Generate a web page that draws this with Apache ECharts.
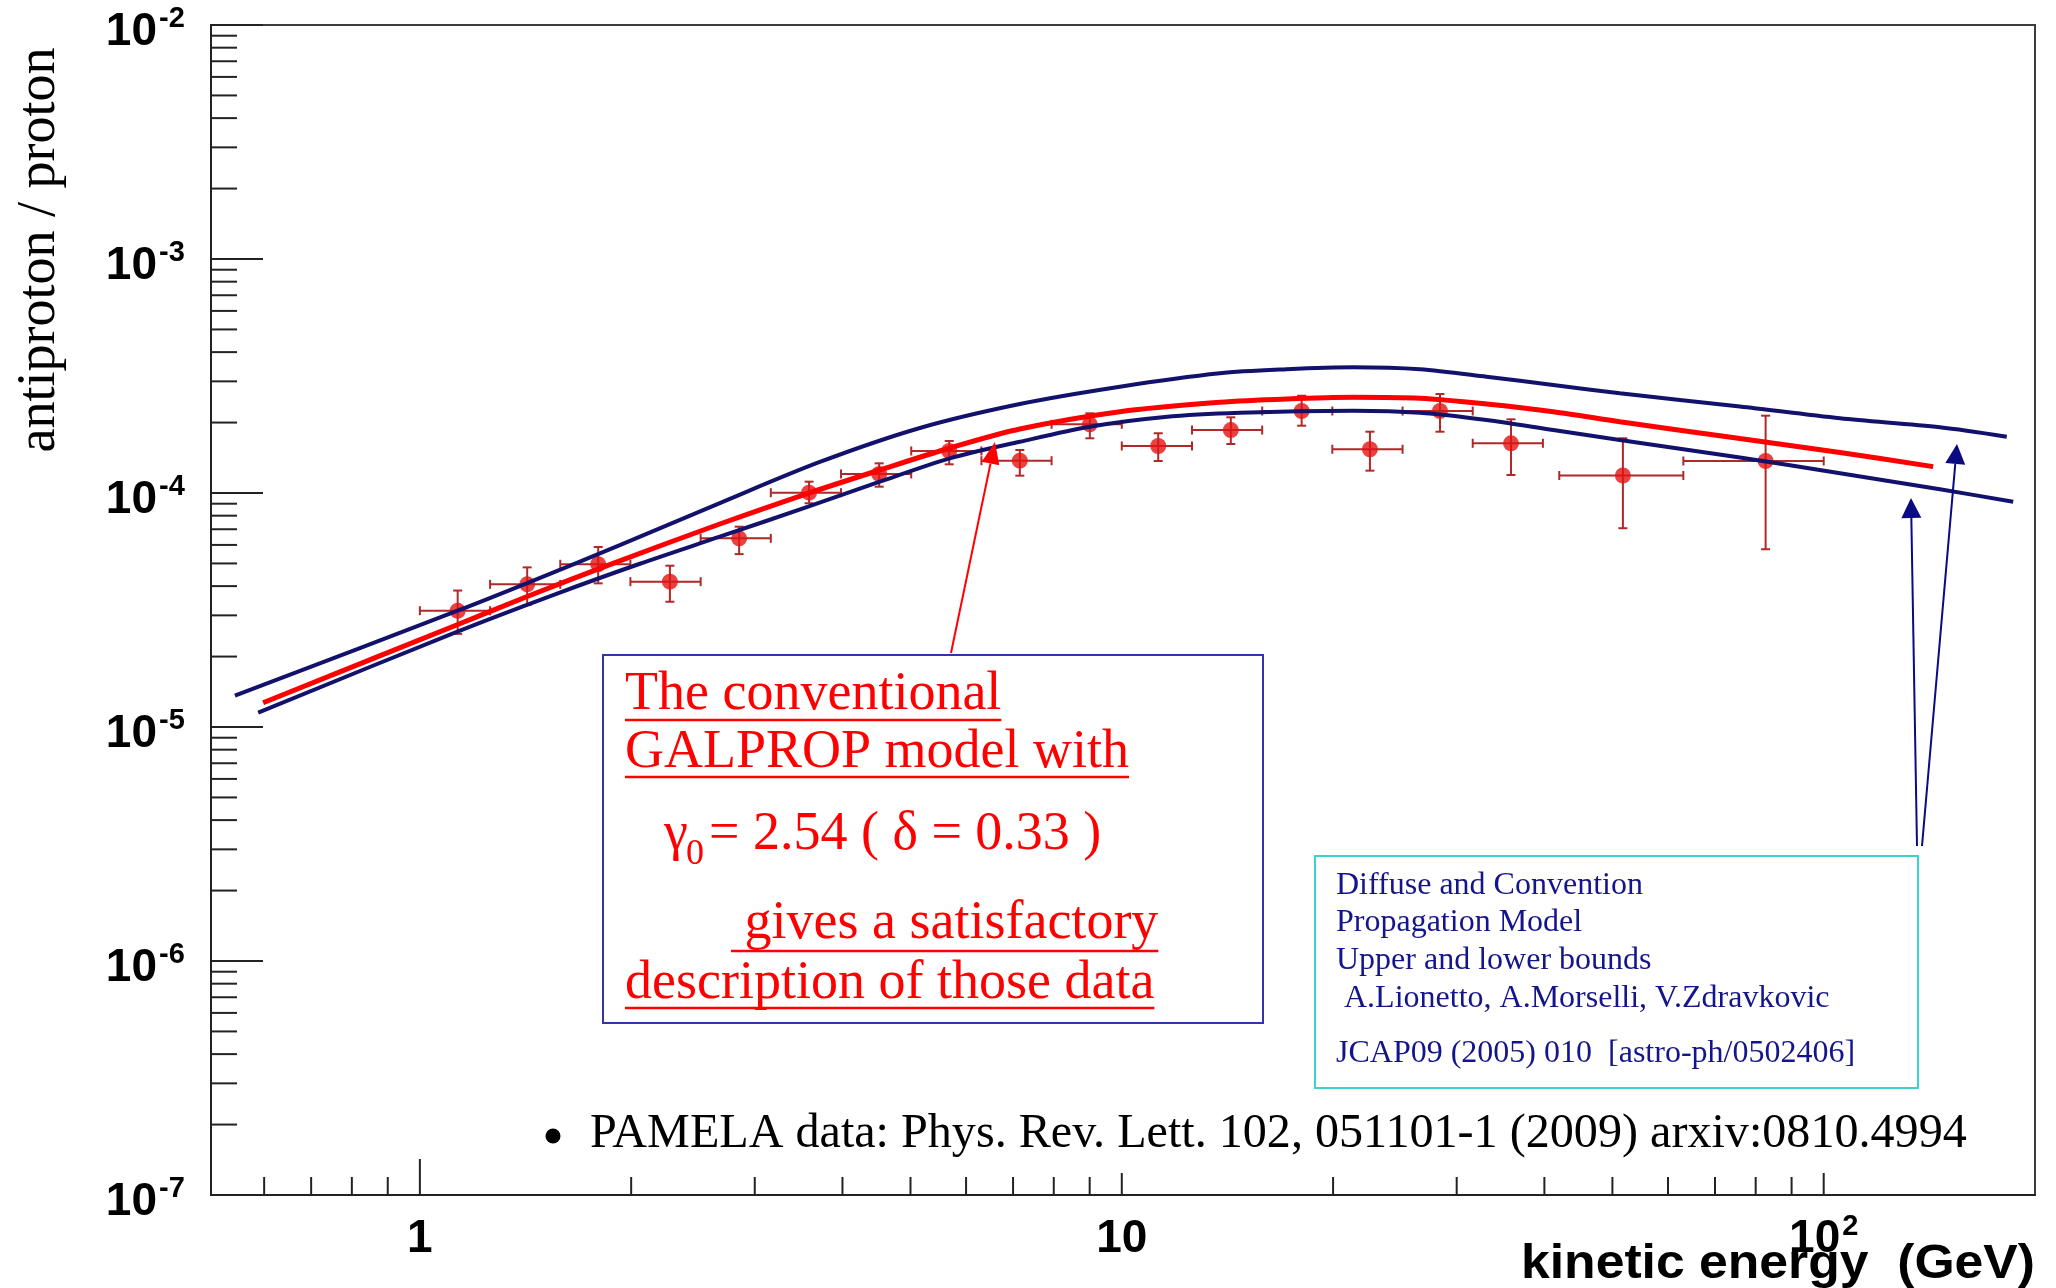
<!DOCTYPE html>
<html lang="en">
<head>
<meta charset="utf-8">
<title>antiproton / proton ratio</title>
<script src="https://cdn.jsdelivr.net/npm/echarts@6.0.0/dist/echarts.min.js"></script>
<style>
  html, body { margin: 0; padding: 0; background: #ffffff; }
  #chart { width: 2056px; height: 1288px; }
</style>
</head>
<body>
<div id="chart"></div>
<script>
// ---- PAMELA antiproton/proton measurements (kinetic energy in GeV) ----
const energy = [1.132, 1.422, 1.795, 2.271, 2.850, 3.585, 4.512, 5.677, 7.157, 9.005,
                11.27, 14.30, 18.04, 22.57, 28.40, 35.85, 51.75, 82.65];
const ratio = [3.14e-5, 4.07e-5, 4.96e-5, 4.18e-5, 6.40e-5, 1.003e-4, 1.206e-4, 1.512e-4, 1.374e-4, 1.966e-4,
               1.588e-4, 1.858e-4, 2.241e-4, 1.538e-4, 2.241e-4, 1.631e-4, 1.188e-4, 1.370e-4];
const energyLow = [1.0, 1.259, 1.585, 1.995, 2.512, 3.162, 3.981, 5.012, 6.310, 7.943,
                   10.0, 12.59, 15.85, 19.95, 25.12, 31.62, 42.0, 63.10];
const energyHigh = [1.259, 1.585, 1.995, 2.512, 3.162, 3.981, 5.012, 6.310, 7.943, 10.0,
                    12.59, 15.85, 19.95, 25.12, 31.62, 39.81, 63.10, 100.0];
const ratioLow = [2.50e-5, 3.32e-5, 4.11e-5, 3.43e-5, 5.48e-5, 9.04e-5, 1.064e-4, 1.326e-4, 1.186e-4, 1.713e-4,
                  1.370e-4, 1.62e-4, 1.939e-4, 1.246e-4, 1.828e-4, 1.194e-4, 7.07e-5, 5.75e-5];
const ratioHigh = [3.83e-5, 4.81e-5, 5.88e-5, 4.89e-5, 7.18e-5, 1.118e-4, 1.339e-4, 1.668e-4, 1.527e-4, 2.19e-4,
                   1.80e-4, 2.106e-4, 2.604e-4, 1.828e-4, 2.648e-4, 2.065e-4, 1.713e-4, 2.14e-4];

// ---- diffusion + convection model, upper bound ----
const upperEnergy = [0.5451, 1.132, 1.419, 1.927, 2.675, 3.714, 5.157, 7.157, 9.938, 13.79,
                     17.17, 21.36, 26.59, 33.09, 41.18, 51.23, 75.97, 105.5, 146.4, 182.3];
const upperRatio = [1.361e-5, 3.14e-5, 4.11e-5, 5.99e-5, 9.06e-5, 1.357e-4, 1.896e-4, 2.400e-4, 2.846e-4, 3.247e-4,
                    3.378e-4, 3.445e-4, 3.378e-4, 3.14e-4, 2.894e-4, 2.668e-4, 2.343e-4, 2.085e-4, 1.909e-4, 1.740e-4];

// ---- conventional GALPROP model ----
const galpropEnergy = [0.5980, 1.128, 1.419, 1.885, 2.675, 3.574, 4.522, 5.690, 7.157, 9.938,
                       13.79, 17.17, 21.36, 26.59, 33.09, 41.18, 51.23, 75.97, 105.5, 143.2];
const galpropRatio = [1.270e-5, 2.729e-5, 3.602e-5, 5.005e-5, 7.37e-5, 9.97e-5, 1.254e-4, 1.557e-4, 1.877e-4, 2.225e-4,
                      2.441e-4, 2.522e-4, 2.564e-4, 2.539e-4, 2.400e-4, 2.225e-4, 2.017e-4, 1.709e-4, 1.490e-4, 1.296e-4];

// ---- diffusion + convection model, lower bound ----
const lowerEnergy = [0.5884, 1.115, 1.548, 2.058, 2.675, 3.574, 4.522, 5.690, 7.157, 9.006,
                     11.52, 14.73, 21.36, 26.59, 33.09, 41.18, 51.23, 75.97, 105.5, 146.4, 186.2];
const lowerRatio = [1.151e-5, 2.514e-5, 3.664e-5, 4.985e-5, 6.505e-5, 8.74e-5, 1.118e-4, 1.407e-4, 1.656e-4, 1.920e-4,
                    2.113e-4, 2.203e-4, 2.247e-4, 2.203e-4, 2.051e-4, 1.858e-4, 1.684e-4, 1.418e-4, 1.214e-4, 1.037e-4, 9.18e-5];

// ---- axes ----
const xMin = 0.504, xMax = 200;
const yMin = 1e-7, yMax = 1e-2;
const yLabelExponents = [-7, -6, -5, -4, -3, -2];
const xLabelValues = [1, 10, 100];
const xLabelBase = ['1', '10', '10'];
const xLabelSup = ['', '', '2'];
const minorSteps = [2, 3, 4, 5, 6, 7, 8, 9];

const AXIS_COLOR = '#222222';
const SANS = '"Liberation Sans", Arial, Helvetica, sans-serif';
const SERIF = '"Liberation Serif", "Times New Roman", Times, serif';
const LABEL_FONT = 'bold 46px ' + SANS;
const SUP_FONT = 'bold 29px ' + SANS;

function pairs(xs, ys) { return xs.map((x, i) => [x, ys[i]]); }

const measureCtx = document.createElement('canvas').getContext('2d');
function textWidth(text, font) { measureCtx.font = font; return measureCtx.measureText(text).width; }

// tick marks on the ratio axis: [x at left edge, value, major?]
const yTicks = [];
yLabelExponents.forEach(e => {
  yTicks.push([xMin, Math.pow(10, e), 1]);
  if (e < -2) minorSteps.forEach(m => yTicks.push([xMin, m * Math.pow(10, e), 0]));
});
// tick marks on the energy axis: [value, y at bottom edge, kind]
const xTicks = [];
[-1, 0, 1, 2].forEach(e => {
  const base = Math.pow(10, e);
  if (base >= xMin && base <= xMax) xTicks.push([base, yMin, e === 0 ? 2 : 1]);
  minorSteps.forEach(m => { const v = m * base; if (v > xMin && v < xMax) xTicks.push([v, yMin, 0]); });
});

// ---- annotation helpers ----
function arrow(x1, y1, x2, y2, color, len, half) {
  const dx = x2 - x1, dy = y2 - y1, L = Math.hypot(dx, dy), ux = dx / L, uy = dy / L;
  const bx = x2 - ux * len, by = y2 - uy * len;
  return [
    { type: 'line', z: 100, shape: { x1: x1, y1: y1, x2: bx, y2: by }, style: { stroke: color, lineWidth: 2 } },
    { type: 'polygon', z: 100, shape: { points: [[x2, y2], [bx - uy * half, by + ux * half], [bx + uy * half, by - ux * half]] },
      style: { fill: color } }
  ];
}
function label(text, x, baseline, font, size, color, underlineY) {
  const els = [{
    type: 'text', z: 100, x: x, y: baseline - 0.3375 * size,
    style: { text: text, font: font, fill: color, align: 'left', verticalAlign: 'middle' }
  }];
  if (underlineY != null) {
    const w = textWidth(text, font);
    els.push({ type: 'line', z: 100, shape: { x1: x, y1: underlineY, x2: x + w, y2: underlineY },
               style: { stroke: color, lineWidth: 2.5 } });
  }
  return els;
}

const RED = '#ff0000';
const NAVY = '#14148c';
const boxFont = '54px ' + SERIF;
const refFont = '32px ' + SERIF;
const pamelaText = 'PAMELA data: Phys. Rev. Lett. 102, 051101-1 (2009) arxiv:0810.4994';
const pamelaSize = Math.min(50, 46 * 1377 / textWidth(pamelaText, '46px ' + SERIF));
const xTitle = 'kinetic energy  (GeV)';
const xTitleFont = 'bold 49px ' + SANS;
const xTitleScale = Math.min(1.15, 514 / textWidth(xTitle, xTitleFont));

const graphics = [].concat(
  // y axis title
  [{ type: 'text', z: 100, x: 40, y: 250, rotation: Math.PI / 2,
     style: { text: 'antiproton / proton', font: '54px ' + SERIF, fill: '#000', align: 'center', verticalAlign: 'middle' } }],
  // x axis title, widened about its right end
  [{ type: 'text', z: 100, x: 2035, y: 1264, scaleX: xTitleScale,
     style: { text: xTitle, font: xTitleFont, fill: '#000', align: 'right', verticalAlign: 'middle' } }],
  // GALPROP note
  [{ type: 'rect', z: 99, shape: { x: 603, y: 655, width: 660, height: 368 },
     style: { fill: 'rgba(255,255,255,0)', stroke: '#3434a4', lineWidth: 2 } }],
  label('The conventional', 625, 713, boxFont, 54, RED, 720),
  label('GALPROP model with', 625, 771, boxFont, 54, RED, 777),
  label('\u03b3', 664, 853, boxFont, 54, RED),
  label('0', 686, 867, '36px ' + SERIF, 36, RED),
  label('= 2.54 ( \u03b4 = 0.33 )', 709, 853, boxFont, 54, RED),
  label(' gives a satisfactory', 731, 942, boxFont, 54, RED, 951),
  label('description of those data', 625, 1002, boxFont, 54, RED, 1008),
  arrow(951, 653, 995, 442, RED, 22, 9),
  // model reference note
  [{ type: 'rect', z: 99, shape: { x: 1315, y: 856, width: 603, height: 232 },
     style: { fill: 'rgba(255,255,255,0)', stroke: '#3cd2d2', lineWidth: 2 } }],
  label('Diffuse and Convention', 1336, 896, refFont, 32, NAVY),
  label('Propagation Model', 1336, 933, refFont, 32, NAVY),
  label('Upper and lower bounds', 1336, 971, refFont, 32, NAVY),
  label(' A.Lionetto, A.Morselli, V.Zdravkovic', 1336, 1009.5, refFont, 32, NAVY),
  label('JCAP09 (2005) 010  [astro-ph/0502406]', 1336, 1064.5, refFont, 32, NAVY),
  arrow(1917, 846, 1911, 498, '#0a0a82', 20, 10),
  arrow(1922, 846, 1957, 444, '#0a0a82', 20, 10),
  // data reference
  [{ type: 'circle', z: 100, shape: { cx: 553, cy: 1136, r: 7.5 }, style: { fill: '#000' } }],
  label(pamelaText, 590, 1151, pamelaSize + 'px ' + SERIF, pamelaSize, '#000')
);

const chart = echarts.init(document.getElementById('chart'), null, { renderer: 'canvas' });

const curveStyle = { smooth: 0.3, showSymbol: false, symbol: 'none' };

chart.setOption({
  animation: false,
  backgroundColor: '#ffffff',
  grid: {
    left: 211, top: 25, width: 1824, height: 1170,
    show: true, borderColor: '#3c3c3c', borderWidth: 2, backgroundColor: 'transparent',
    containLabel: false, outerBoundsMode: 'none'
  },
  xAxis: {
    type: 'log', logBase: 10, min: xMin, max: xMax,
    axisLine: { show: true, lineStyle: { color: AXIS_COLOR, width: 2 } },
    axisTick: { show: false }, axisLabel: { show: false }, splitLine: { show: false }, minorTick: { show: false }
  },
  yAxis: {
    type: 'log', logBase: 10, min: yMin, max: yMax,
    axisLine: { show: true, lineStyle: { color: AXIS_COLOR, width: 2 } },
    axisTick: { show: false }, axisLabel: { show: false }, splitLine: { show: false }, minorTick: { show: false }
  },
  graphic: graphics,
  series: [
    {
      // ratio axis ticks
      type: 'custom', name: 'yTicks', z: 1, clip: false, silent: true,
      data: yTicks, encode: { x: 0, y: 1 },
      renderItem: function (params, api) {
        const p = api.coord([api.value(0), api.value(1)]);
        const len = api.value(2) ? 52 : 26;
        return { type: 'line', shape: { x1: p[0], y1: p[1], x2: p[0] + len, y2: p[1] },
                 style: { stroke: AXIS_COLOR, lineWidth: 2 } };
      }
    },
    {
      // energy axis ticks
      type: 'custom', name: 'xTicks', z: 1, clip: false, silent: true,
      data: xTicks, encode: { x: 0, y: 1 },
      renderItem: function (params, api) {
        const p = api.coord([api.value(0), api.value(1)]);
        const kind = api.value(2);
        const len = kind === 2 ? 36 : (kind === 1 ? 22 : 18);
        return { type: 'line', shape: { x1: p[0], y1: p[1], x2: p[0], y2: p[1] - len },
                 style: { stroke: AXIS_COLOR, lineWidth: 2 } };
      }
    },
    {
      // ratio axis labels 10^n
      type: 'custom', name: 'yLabels', z: 1, clip: false, silent: true,
      data: yLabelExponents.map(e => [xMin, Math.pow(10, e), e]), encode: { x: 0, y: 1 },
      renderItem: function (params, api) {
        const p = api.coord([api.value(0), api.value(1)]);
        const e = api.value(2);
        return { type: 'group', children: [
          { type: 'text', x: p[0] - 54, y: p[1] + 7,
            style: { text: '10', font: LABEL_FONT, fill: '#000', align: 'right', verticalAlign: 'middle' } },
          { type: 'text', x: p[0] - 52, y: p[1] - 6,
            style: { text: String(e), font: SUP_FONT, fill: '#000', align: 'left', verticalAlign: 'middle' } }
        ] };
      }
    },
    {
      // energy axis labels
      type: 'custom', name: 'xLabels', z: 1, clip: false, silent: true,
      data: xLabelValues.map((v, i) => [v, yMin, i]), encode: { x: 0, y: 1 },
      renderItem: function (params, api) {
        const p = api.coord([api.value(0), api.value(1)]);
        const i = api.value(2);
        const base = xLabelBase[i], sup = xLabelSup[i];
        const wb = textWidth(base, LABEL_FONT);
        const ws = sup ? textWidth(sup, SUP_FONT) + 2 : 0;
        const x0 = p[0] - (wb + ws) / 2;
        const kids = [{ type: 'text', x: x0, y: p[1] + 44,
          style: { text: base, font: LABEL_FONT, fill: '#000', align: 'left', verticalAlign: 'middle' } }];
        if (sup) kids.push({ type: 'text', x: x0 + wb + 2, y: p[1] + 32,
          style: { text: sup, font: SUP_FONT, fill: '#000', align: 'left', verticalAlign: 'middle' } });
        return { type: 'group', children: kids };
      }
    },
    {
      // PAMELA error bars
      type: 'custom', name: 'errors', z: 3, clip: false,
      data: energy.map((e, i) => [e, ratio[i], energyLow[i], energyHigh[i], ratioLow[i], ratioHigh[i]]),
      encode: { x: 0, y: 1 },
      renderItem: function (params, api) {
        const c = api.coord([api.value(0), api.value(1)]);
        const xl = api.coord([api.value(2), api.value(1)])[0];
        const xh = api.coord([api.value(3), api.value(1)])[0];
        const yl = api.coord([api.value(0), api.value(4)])[1];
        const yh = api.coord([api.value(0), api.value(5)])[1];
        const s = { stroke: '#b02828', lineWidth: 2 };
        const cap = 4.5;
        return { type: 'group', children: [
          { type: 'line', shape: { x1: xl, y1: c[1], x2: xh, y2: c[1] }, style: s },
          { type: 'line', shape: { x1: xl, y1: c[1] - cap, x2: xl, y2: c[1] + cap }, style: s },
          { type: 'line', shape: { x1: xh, y1: c[1] - cap, x2: xh, y2: c[1] + cap }, style: s },
          { type: 'line', shape: { x1: c[0], y1: yl, x2: c[0], y2: yh }, style: s },
          { type: 'line', shape: { x1: c[0] - cap, y1: yl, x2: c[0] + cap, y2: yl }, style: s },
          { type: 'line', shape: { x1: c[0] - cap, y1: yh, x2: c[0] + cap, y2: yh }, style: s }
        ] };
      }
    },
    {
      type: 'scatter', name: 'PAMELA', z: 4,
      data: pairs(energy, ratio), symbol: 'circle', symbolSize: 16,
      itemStyle: { color: '#e51212' }
    },
    Object.assign({
      type: 'line', name: 'upper bound', z: 5,
      data: pairs(upperEnergy, upperRatio), lineStyle: { color: '#12126c', width: 4 }
    }, curveStyle),
    Object.assign({
      type: 'line', name: 'lower bound', z: 5,
      data: pairs(lowerEnergy, lowerRatio), lineStyle: { color: '#12126c', width: 4 }
    }, curveStyle),
    Object.assign({
      type: 'line', name: 'GALPROP', z: 6,
      data: pairs(galpropEnergy, galpropRatio), lineStyle: { color: '#ff0000', width: 5 }
    }, curveStyle)
  ]
});
</script>
</body>
</html>
